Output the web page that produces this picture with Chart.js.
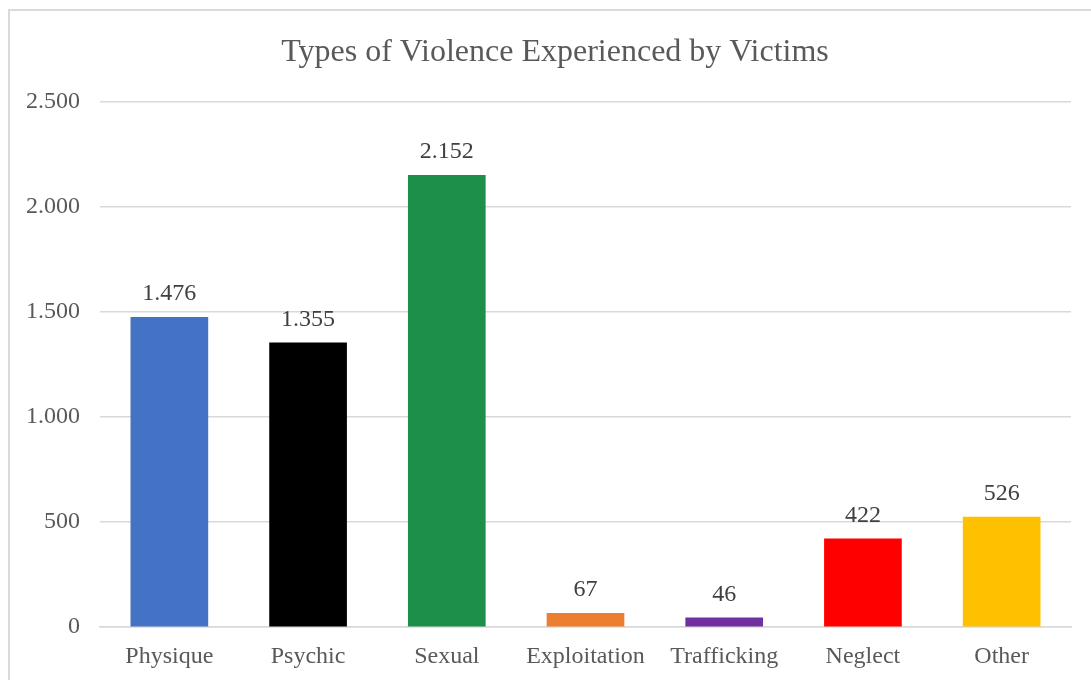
<!DOCTYPE html>
<html>
<head>
<meta charset="utf-8">
<script src="https://cdn.jsdelivr.net/npm/chart.js@4"></script>
<style>
  html, body { margin: 0; padding: 0; background: #ffffff; overflow: hidden; }
  #wrap { position: relative; width: 1091px; height: 680px; }
  #frame { position: absolute; left: 8px; top: 9px; width: 1200px; height: 800px;
           border-top: 2px solid #d9d9d9; border-left: 2px solid #d9d9d9; pointer-events: none; }
  canvas { position: absolute; left: 0; top: 0; }
</style>
</head>
<body>
<div id="wrap">
  <canvas id="c" width="1091" height="680"></canvas>
  <div id="frame"></div>
</div>
<script>
const categories = ["Physique", "Psychic", "Sexual", "Exploitation", "Trafficking", "Neglect", "Other"];
const victims = [1476, 1355, 2152, 67, 46, 422, 526];
const barColors = ["#4472C4", "#000000", "#1E8F4B", "#ED7D31", "#7030A0", "#FF0000", "#FFC000"];
const yTicks = [0, 500, 1000, 1500, 2000, 2500];
const chartTitle = "Types of Violence Experienced by Victims";

function fmt(v) {
  return String(Math.round(v)).replace(/\B(?=(\d{3})+(?!\d))/g, ".");
}

const FONT = "'Liberation Serif', 'Times New Roman', serif";

const valueLabels = {
  id: "valueLabels",
  afterDatasetsDraw(chart) {
    const ctx = chart.ctx;
    const meta = chart.getDatasetMeta(0);
    ctx.save();
    ctx.font = "24px " + FONT;
    ctx.fillStyle = "#404040";
    ctx.textAlign = "center";
    ctx.textBaseline = "middle";
    meta.data.forEach((bar, i) => {
      ctx.fillText(fmt(victims[i]), bar.x, bar.y - 23);
    });
    ctx.restore();
  }
};

const titleText = {
  id: "titleText",
  afterDraw(chart) {
    const ctx = chart.ctx;
    ctx.save();
    ctx.font = "32px " + FONT;
    ctx.fillStyle = "#595959";
    ctx.textAlign = "center";
    ctx.textBaseline = "middle";
    ctx.fillText(chartTitle, 555, 53);
    ctx.restore();
  }
};

new Chart(document.getElementById("c"), {
  type: "bar",
  data: {
    labels: categories,
    datasets: [{
      data: victims,
      backgroundColor: barColors,
      borderWidth: 0,
      barPercentage: 0.56,
      categoryPercentage: 1.0
    }]
  },
  options: {
    responsive: false,
    animation: false,
    devicePixelRatio: 1,
    layout: { padding: { left: 6, right: 20, top: 102, bottom: -6 } },
    plugins: {
      legend: { display: false },
      tooltip: { enabled: false },
      title: { display: false }
    },
    scales: {
      x: {
        grid: { display: false, drawTicks: false },
        border: { display: true, color: "#d9d9d9", width: 1.5 },
        ticks: {
          color: "#595959",
          font: { family: FONT, size: 24, lineHeight: 1.2 },
          padding: 15,
          maxRotation: 0,
          autoSkip: false
        }
      },
      y: {
        min: 0,
        max: 2500,
        afterBuildTicks(axis) { axis.ticks = yTicks.map(v => ({ value: v })); },
        grid: { color: "#d9d9d9", lineWidth: 1.5, drawTicks: false },
        border: { display: false },
        ticks: {
          color: "#595959",
          font: { family: FONT, size: 24, lineHeight: 1.2 },
          padding: 20,
          callback: (v) => fmt(v)
        }
      }
    }
  },
  plugins: [valueLabels, titleText]
});
</script>
</body>
</html>
